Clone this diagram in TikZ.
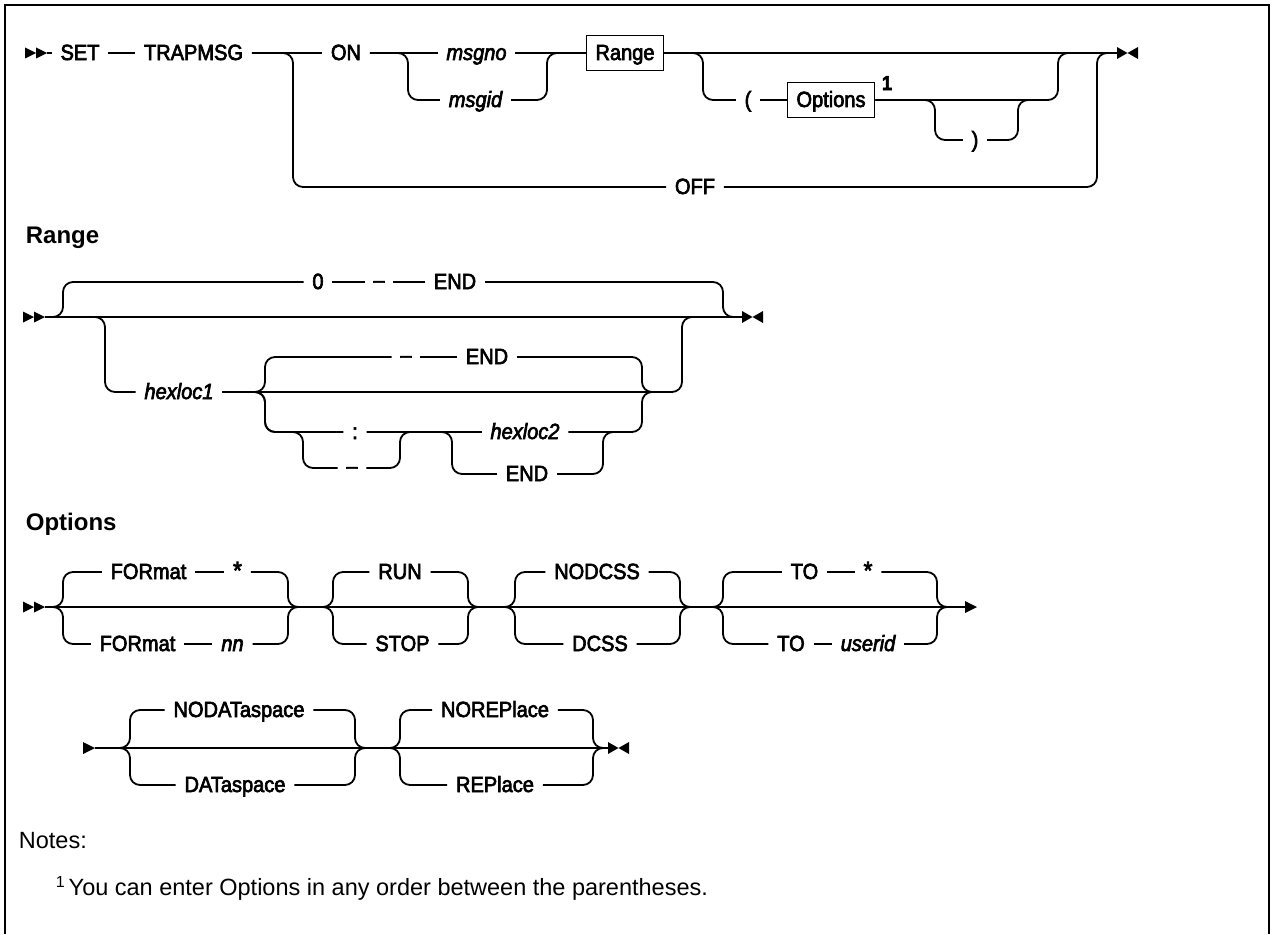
\documentclass[tikz,border=0pt]{standalone}
\usepackage{fontspec}
\setmainfont{Liberation Sans}
\newfontfamily\diagf{Liberation Sans}[FakeBold=3,FakeStretch=0.91]
\begin{document}
\begin{tikzpicture}[x=1pt,y=-1pt,line width=1.8pt,
  rr/.style={rounded corners=10pt},
  kw/.style={font=\diagf\fontsize{22}{24}\selectfont, inner xsep=8pt, inner ysep=0pt, text height=14pt, text depth=0pt},
  var/.style={kw, font=\diagf\fontsize{22}{24}\selectfont\itshape},
  box/.style={kw, draw, minimum height=35pt, inner xsep=9pt},
  ttl/.style={font=\fontsize{24}{28}\selectfont\bfseries, anchor=base west, inner sep=0pt},
  note/.style={font=\fontsize{23.5}{28}\selectfont, anchor=base west, inner sep=0pt},
  dbl/.pic={\fill (-22,-5.5)--(-11,0)--(-22,5.5)--cycle; \fill (-11,-5.5)--(0,0)--(-11,5.5)--cycle;},
  bowtie/.pic={\fill (0,-6)--(10.5,0)--(0,6)--cycle; \fill (21,-6)--(10.5,0)--(21,6)--cycle;},
  rtri/.pic={\fill (0,-6)--(12,0)--(0,6)--cycle;}
]
\newcommand\rdash{\raisebox{1.5pt}{–}}
\newcommand\rstar{{\fontsize{25}{24}\selectfont *}}
\useasboundingbox (0,0) rectangle (1273,934);
\draw[line width=2pt] (5,934) -- (5,5) -- (1269,5) -- (1269,934);

% ---------------- main diagram ----------------
\pic at (47,53) {dbl};
\coordinate (m0) at (47,53);
\coordinate (mend) at (1117,53);
\pic at (1117,53) {bowtie};
\node[kw] (set) at (80,53) {SET};
\node[kw] (trap) at (193.5,53) {TRAPMSG};
\node[kw] (on) at (346,53) {ON};
\node[var] (msgno) at (476.5,53) {msgno};
\node[var] (msgid) at (475.5,100) {msgid};
\node[box] (range) at (625,53) {Range};
\node[kw] (lp) at (748,100) {(};
\node[box] (opts) at (831,100) {Options};
\node[font=\diagf\fontsize{20}{20}\selectfont\bfseries, anchor=base west, inner sep=0pt] (fn1) at (881,90) {1};
\node[kw] (rp) at (975,140) {)};
\node[kw] (off) at (695,187) {OFF};
\coordinate (j1) at (1040,100);

\draw (m0) -- (set.west);
\draw (set.east) -- (trap.west);
\draw (trap.east) -- (on.west);
\draw[rr] (trap.east) -- (293,53) |- (off.west);
\draw[rr] (off.east) -| (1097,53) -- (mend);
\draw (on.east) -- (msgno.west);
\draw[rr] (on.east) -- (408,53) |- (msgid.west);
\draw (msgno.east) -- (range.west);
\draw[rr] (msgid.east) -| (547,53) -- (range.west);
\draw (range.east) -- (mend);
\draw[rr] (range.east) -- (703,53) |- (lp.west);
\draw (lp.east) -- (opts.west);
\draw[rr] (opts.east) -| (1058,53) -- (mend);
\draw[rr] (opts.east) -- (935,100) |- (rp.west);
\draw[rr] (rp.east) -| (1018,100) -- (j1);

% ---------------- Range ----------------
\node[ttl] (tRange) at (25,243) {Range};
\pic at (45,317) {dbl};
\coordinate (r0) at (45,317);
\coordinate (rend) at (742,317);
\pic at (742,317) {bowtie};
\node[kw] (z0) at (318,282) {0};
\node[kw] (zd) at (379,282) {\rdash};
\node[kw] (ze) at (455,282) {END};
\node[var] (h1) at (179,392) {hexloc1};
\node[kw] (d1) at (406,357) {\rdash};
\node[kw] (e1) at (487,357) {END};
\node[kw] (col) at (355,432) {:};
\node[kw] (d2) at (352,468) {\rdash};
\node[var] (h2) at (525,432) {hexloc2};
\node[kw] (e2) at (527,474) {END};
\coordinate (jA) at (662,392);
\coordinate (jB) at (615,432);

\draw (r0) -- (rend);
\draw[rr] (r0) -- (63,317) |- (z0.west);
\draw (z0.east) -- (zd.west);
\draw (zd.east) -- (ze.west);
\draw[rr] (ze.east) -| (723,317) -- (rend);
\draw[rr] (r0) -- (105,317) |- (h1.west);
\draw[rr] (h1.east) -| (682,317) -- (rend);
\draw[rr] (h1.east) -- (265,392) |- (d1.west);
\draw (d1.east) -- (e1.west);
\draw[rr] (e1.east) -| (642,392) -- (jA);
\draw[rr] (h1.east) -- (265,392) |- (col.west);
\draw[rr] (h1.east) -- (265,392) |- (303,432) |- (d2.west);
\draw[rr] (d2.east) -| (400,432) -- (h2.west);
\draw (col.east) -- (h2.west);
\draw[rr] (col.east) -- (452,432) |- (e2.west);
\draw[rr] (e2.east) -| (603,432) -- (jB);
\draw[rr] (h2.east) -| (642,392) -- (jA);

% ---------------- Options ----------------
\node[ttl] (tOpt) at (25,530) {Options};
\pic at (45,607) {dbl};
\coordinate (o0) at (45,607);
\coordinate (oa) at (965,607);
\pic at (965,607) {rtri};
\coordinate (c1) at (298,607);
\coordinate (c2) at (478,607);
\coordinate (c3) at (690,607);
\coordinate (c4) at (947,607);
\draw (o0) -- (oa);
% group 1
\node[kw] (f1) at (148.5,572) {FORmat};
\node[kw] (s1) at (237.5,572) {\rstar};
\node[kw] (f2) at (137.5,644) {FORmat};
\node[var] (n2) at (232.5,644) {nn};
\draw[rr] (o0) -- (63,607) |- (f1.west);
\draw (f1.east) -- (s1.west);
\draw[rr] (s1.east) -| (288,607) -- (c1);
\draw[rr] (o0) -- (63,607) |- (f2.west);
\draw (f2.east) -- (n2.west);
\draw[rr] (n2.east) -| (288,607) -- (c1);
% group 2
\node[kw] (run) at (400,572) {RUN};
\node[kw] (stop) at (402.5,644) {STOP};
\draw[rr] (c1) -- (333,607) |- (run.west);
\draw[rr] (run.east) -| (468,607) -- (c2);
\draw[rr] (c1) -- (333,607) |- (stop.west);
\draw[rr] (stop.east) -| (468,607) -- (c2);
% group 3
\node[kw] (nod) at (597,572) {NODCSS};
\node[kw] (dcss) at (600,644) {DCSS};
\draw[rr] (c2) -- (515,607) |- (nod.west);
\draw[rr] (nod.east) -| (680,607) -- (c3);
\draw[rr] (c2) -- (515,607) |- (dcss.west);
\draw[rr] (dcss.east) -| (680,607) -- (c3);
% group 4
\node[kw] (to1) at (804.5,572) {TO};
\node[kw] (s4) at (868,572) {\rstar};
\node[kw] (to2) at (791,644) {TO};
\node[var] (uid) at (868,644) {userid};
\draw[rr] (c3) -- (723,607) |- (to1.west);
\draw (to1.east) -- (s4.west);
\draw[rr] (s4.east) -| (937,607) -- (c4);
\draw[rr] (c3) -- (723,607) |- (to2.west);
\draw (to2.east) -- (uid.west);
\draw[rr] (uid.east) -| (937,607) -- (c4);

% row 2
\fill (83,742) -- (95,748) -- (83,754) -- cycle;
\coordinate (p0) at (95,748);
\coordinate (pend) at (608,748);
\pic at (608,748) {bowtie};
\coordinate (c5) at (365,748);
\draw (p0) -- (pend);
\node[kw] (nodata) at (239,710) {NODATaspace};
\node[kw] (data) at (235,785) {DATaspace};
\draw[rr] (p0) -- (130,748) |- (nodata.west);
\draw[rr] (nodata.east) -| (355,748) -- (c5);
\draw[rr] (p0) -- (130,748) |- (data.west);
\draw[rr] (data.east) -| (355,748) -- (c5);
\node[kw] (norep) at (495,710) {NOREPlace};
\node[kw] (rep) at (495,785) {REPlace};
\draw[rr] (c5) -- (400,748) |- (norep.west);
\draw[rr] (norep.east) -| (593,748) -- (pend);
\draw[rr] (c5) -- (400,748) |- (rep.west);
\draw[rr] (rep.east) -| (593,748) -- (pend);

% ---------------- Notes ----------------
\node[note] (notes) at (18,848) {Notes:};
\node[note] (note1) at (55,895) {\raisebox{8pt}{\fontsize{16}{18}\selectfont 1}\,You can enter Options in any order between the parentheses.};
\end{tikzpicture}
\end{document}
